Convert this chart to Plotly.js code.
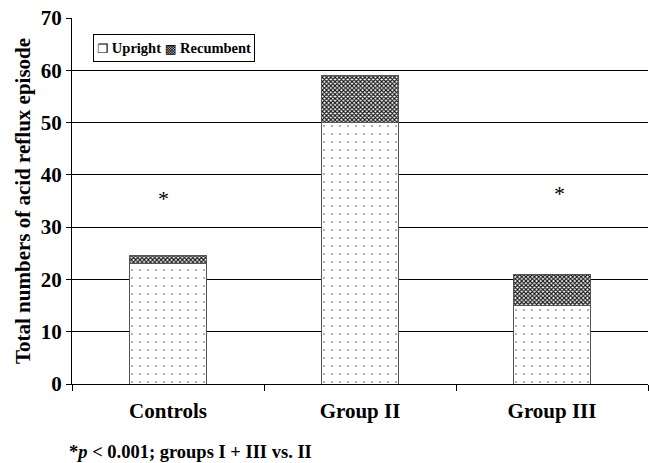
<!DOCTYPE html>
<html>
<head>
<meta charset="utf-8">
<script src="https://cdn.plot.ly/plotly-3.0.1.min.js"></script>
<style>
  html, body { margin: 0; padding: 0; background: #fff; }
  #chart { width: 649px; height: 463px; }
</style>
</head>
<body>
<div id="chart"></div>
<script>
// Acid reflux episodes per group, split by body position
const groups = ['Controls', 'Group II', 'Group III'];
const seriesNames = ['Upright', 'Recumbent'];
const seriesKeys = ['\u2750', '\u25A9'];
const upright = [23, 50, 15];
const recumbent = [1.5, 9, 6];
const starGroups = ['Controls', 'Group III'];
const starHeights = [35.4, 36.5];
const yTicks = [0, 10, 20, 30, 40, 50, 60, 70];

const serif = 'Liberation Serif, Times New Roman, serif';

const traces = [
  {
    type: 'bar', name: seriesNames[0], x: groups, y: upright,
    width: 0.4,
    marker: {
      color: '#ffffff',
      line: { color: '#555', width: 1 },
      pattern: { shape: '.', fgcolor: '#333', bgcolor: '#ffffff', size: 8, solidity: 0.025 }
    },
    hoverinfo: 'skip'
  },
  {
    type: 'bar', name: seriesNames[1], x: groups, y: recumbent,
    width: 0.4,
    marker: {
      color: '#ffffff',
      line: { color: '#555', width: 1 },
      pattern: { shape: 'x', fgcolor: '#111', bgcolor: '#ffffff', size: 3, solidity: 0.6 }
    },
    hoverinfo: 'skip'
  }
];

// significance markers above the groups that differ from Group II
const annotations = starGroups.map((g, i) => ({
  x: g, y: starHeights[i], xref: 'x', yref: 'y',
  text: '*', showarrow: false,
  xshift: g === 'Controls' ? -5 : 7,
  font: { family: serif, size: 22, color: '#000' }
}));

// compact boxed key with small square swatches
const keyText = seriesNames
  .map((n, i) => '<span style="font-family:DejaVu Sans;font-size:12.5px">' + seriesKeys[i] + '</span> ' + n)
  .join(' ');
annotations.push({
  x: 0.0365, y: 0.956, xref: 'paper', yref: 'paper',
  xanchor: 'left', yanchor: 'top',
  text: '<b>' + keyText + '</b>',
  showarrow: false,
  height: 20,
  bgcolor: '#fff', bordercolor: '#000', borderwidth: 1, borderpad: 3,
  font: { family: serif, size: 14.5, color: '#000' }
});

// footnote
annotations.push({
  x: 0, y: 0, xref: 'paper', yref: 'paper',
  xanchor: 'left', yanchor: 'top', xshift: -5, yshift: -56,
  text: '<b>*<i>p</i> &lt; 0.001; groups I + III vs. II</b>',
  showarrow: false,
  font: { family: serif, size: 18.5, color: '#000' }
});

const layout = {
  width: 649, height: 463,
  margin: { l: 72, r: 1, t: 18, b: 79 },
  paper_bgcolor: '#fff', plot_bgcolor: '#fff',
  barmode: 'stack',
  showlegend: false,
  xaxis: {
    type: 'category',
    showline: true, linecolor: '#000', linewidth: 1,
    ticks: 'outside', tickson: 'boundaries', ticklen: 6, tickcolor: '#000',
    showgrid: false,
    ticklabelstandoff: 8,
    tickfont: { family: serif, size: 21, color: '#000', weight: 'bold' }
  },
  yaxis: {
    range: [0, 70],
    tickvals: yTicks,
    ticks: 'outside', ticklen: 5, tickcolor: '#000',
    showline: true, linecolor: '#000', linewidth: 1,
    showgrid: true, gridcolor: '#000', gridwidth: 1,
    zeroline: false,
    tickfont: { family: serif, size: 21, color: '#000', weight: 'bold' },
    title: {
      text: 'Total numbers of acid reflux episode',
      font: { family: serif, size: 21, color: '#000', weight: 'bold' },
      standoff: 4
    }
  },
  annotations: annotations
};

Plotly.newPlot('chart', traces, layout, { displayModeBar: false, staticPlot: true });
</script>
</body>
</html>
